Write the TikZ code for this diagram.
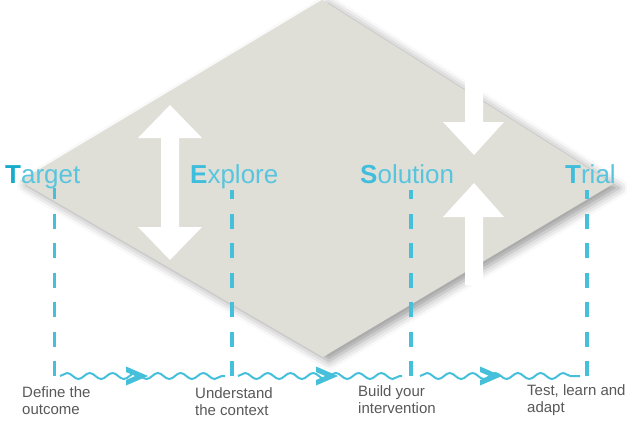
\documentclass[tikz,border=0pt]{standalone}
\usepackage{fontspec}
\setmainfont{Liberation Sans}
\usetikzlibrary{calc,decorations.pathmorphing,shadows.blur}
\definecolor{paper}{RGB}{223,223,216}
\definecolor{tealdark}{RGB}{22,172,202}
\definecolor{tealmid}{RGB}{62,190,220}
\definecolor{teallight}{RGB}{88,197,222}
\definecolor{linecol}{RGB}{70,191,219}
\definecolor{notegray}{RGB}{88,88,88}
\tikzset{
  phase/.style={anchor=base west, inner sep=0pt, text=teallight,
    font=\fontsize{26}{30}\selectfont},
  note/.style={anchor=base west, inner sep=0pt, text=notegray, align=left,
    font=\fontsize{15}{17}\selectfont},
  guide/.style={draw=linecol, line width=3.2pt, dash pattern=on 15pt off 14.5pt},
  wave/.style={draw=linecol, line width=2pt, decorate,
    decoration={snake, amplitude=3pt, segment length=22.7pt}},
  blockarrow/.style={fill=white, draw=none},
  chev/.pic={\fill[linecol] (-22,-9.5) -- (0,0) -- (-22,9.5) -- (-22,4)
    -- (-12.7,0) -- (-22,-4) -- cycle;},
}
\begin{document}
\begin{tikzpicture}[x=1pt,y=-1pt]
\useasboundingbox (0,0) rectangle (627,423);

% tilted plane with its soft shadow
\fill[paper, blur shadow={shadow xshift=6pt, shadow yshift=-4pt,
    shadow blur radius=9pt, shadow opacity=40}]
  (20,181) -- (322,0) -- (613,184) -- (323,357) -- cycle;

% white block arrows on the plane
\fill[blockarrow] (170,105) -- (202,138) -- (179,138) -- (179,227) -- (202,227)
  -- (170,260) -- (138,227) -- (161,227) -- (161,138) -- (138,138) -- cycle;
\fill[blockarrow] (465,70) -- (483,70) -- (483,122) -- (504,122) -- (474,155)
  -- (443,122) -- (465,122) -- cycle;
\fill[blockarrow] (474,183) -- (504,217) -- (483,217) -- (483,285) -- (465,285)
  -- (465,217) -- (443,217) -- cycle;

% phase titles
\node[phase] (target) at (5,183) {\textbf{\color{tealdark}T}arget};
\node[phase] (explore) at (190,183) {\textbf{\color{tealmid}E}xplore};
\node[phase] (solution) at (360,183) {\textbf{\color{tealmid}S}olution};
\node[phase] (trial) at (565,183) {\textbf{\color{tealmid}T}rial};

% ends of the guide lines
\coordinate (g1t) at (54.5,188); \coordinate (g1b) at (54.5,376);
\coordinate (g2t) at (232,190);  \coordinate (g2b) at (232,376);
\coordinate (g3t) at (411,190);  \coordinate (g3b) at (411,376);
\coordinate (g4t) at (587,190);  \coordinate (g4b) at (587,376);

\draw[guide] (g1b) -- (g1t);
\draw[guide] (g2b) -- (g2t);
\draw[guide] (g3b) -- (g3t);
\draw[guide] (g4b) -- (g4t);

% wavy time line between the guides
\coordinate (w1s) at (60,376);  \coordinate (w1e) at (225,376);
\coordinate (w2s) at (238,376); \coordinate (w2e) at (402,376);
\coordinate (w3s) at (420,376); \coordinate (w3e) at (580,376);
\draw[wave] (w1s) -- (w1e);
\draw[wave] (w2s) -- (w2e);
\draw[wave] (w3s) -- (w3e);

% chevrons along the time line
\coordinate (c1) at (148,376);
\coordinate (c2) at (338,376);
\coordinate (c3) at (502,376);
\pic at (c1) {chev};
\pic at (c2) {chev};
\pic at (c3) {chev};

% step notes (anchored on the baseline of their last line)
\node[note] (n1) at (22,414) {Define the\\outcome};
\node[note] (n2) at (195,415) {Understand\\the context};
\node[note] (n3) at (358,413) {Build your\\intervention};
\node[note] (n4) at (527,412) {Test, learn and\\adapt};
\end{tikzpicture}
\end{document}
